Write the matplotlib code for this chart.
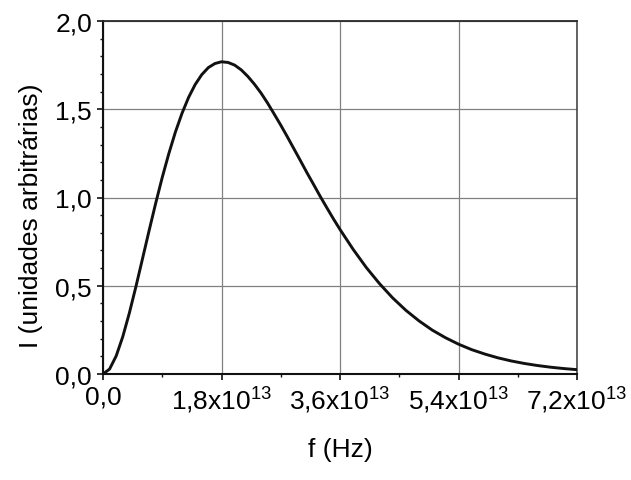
import matplotlib
matplotlib.use("Agg")
import matplotlib.pyplot as plt
from matplotlib.ticker import FixedLocator, FixedFormatter, MultipleLocator

plt.rcParams['font.family'] = ['Liberation Sans', 'DejaVu Sans']
plt.rcParams['mathtext.fontset'] = 'custom'
plt.rcParams['mathtext.rm'] = 'Liberation Sans'
plt.rcParams['mathtext.it'] = 'Liberation Sans'
plt.rcParams['mathtext.bf'] = 'Liberation Sans'

# frequency (units of 1e13 Hz)
freq = [0.0, 0.1, 0.2, 0.3, 0.4, 0.5, 0.6, 0.7, 0.8, 0.9, 1.0, 1.1, 1.2, 1.3, 1.4,
        1.5, 1.6, 1.7, 1.8, 1.9, 2.0, 2.1, 2.2, 2.3, 2.4, 2.5, 2.6, 2.7, 2.8, 2.9,
        3.0, 3.1, 3.2, 3.3, 3.4, 3.5, 3.6, 3.8, 4.0, 4.2, 4.4,
        4.6, 4.8, 5.0, 5.2, 5.4, 5.6, 5.8, 6.0, 6.2, 6.4, 6.6, 6.8, 7.0, 7.2]
# intensity (arbitrary units)
intensity = [0.0, 0.028, 0.102, 0.211, 0.345, 0.495, 0.653, 0.812, 0.967, 1.114,
             1.249, 1.371, 1.477, 1.567, 1.640, 1.696, 1.736, 1.759, 1.769, 1.765,
             1.750, 1.723, 1.686, 1.642, 1.592, 1.535, 1.473, 1.410, 1.344, 1.276,
             1.208, 1.139, 1.073, 1.006, 0.942, 0.879, 0.819, 0.706, 0.603, 0.512, 0.431,
             0.361, 0.301, 0.249, 0.206, 0.169, 0.138, 0.113, 0.0915, 0.074, 0.0597,
             0.048, 0.0385, 0.0308, 0.0246]

xtick_vals = [0.0, 1.8, 3.6, 5.4, 7.2]
xtick_labels = ['0,0', r'1,8x10$^{\mathregular{13}}$', r'3,6x10$^{\mathregular{13}}$',
                r'5,4x10$^{\mathregular{13}}$', r'7,2x10$^{\mathregular{13}}$']
ytick_vals = [0.0, 0.5, 1.0, 1.5, 2.0]
ytick_labels = ['0,0', '0,5', '1,0', '1,5', '2,0']

FS = 19
W, H = 631, 481
fig = plt.figure(figsize=(W / 100, H / 100), dpi=100)
ax = fig.add_axes([103 / W, 1 - 375 / H, (577 - 103) / W, (375 - 22) / H])

x_scaled = [v * 1e13 for v in freq]
ax.plot(x_scaled, intensity, color='#111111', lw=2.1, zorder=3,
        solid_capstyle='round', solid_joinstyle='round')

ax.set_xlim(0, 7.2e13)
ax.set_ylim(0, 2.0)

ax.xaxis.set_major_locator(FixedLocator([v * 1e13 for v in xtick_vals]))
ax.xaxis.set_major_formatter(FixedFormatter(xtick_labels))
ax.xaxis.set_minor_locator(MultipleLocator(0.9e13))
ax.yaxis.set_major_locator(FixedLocator(ytick_vals))
ax.yaxis.set_major_formatter(FixedFormatter(ytick_labels))
ax.yaxis.set_minor_locator(MultipleLocator(0.1))

ax.tick_params(which='both', direction='out', top=False, right=False, color='#111111')
ax.tick_params(which='major', length=4.5, width=1.2, labelsize=FS, pad=3.5)
ax.tick_params(which='minor', length=2.5, width=1.0)
ax.tick_params(axis='x', which='major', pad=3.0)

ax.grid(True, which='major', color='#808080', lw=0.9)
ax.set_axisbelow(True)

for side in ['left', 'bottom']:
    ax.spines[side].set_linewidth(1.5)
    ax.spines[side].set_color('#111111')
ax.spines['top'].set_linewidth(1.3)
ax.spines['top'].set_color('#2a2a2a')
ax.spines['right'].set_linewidth(1.1)
ax.spines['right'].set_color('#3a3a3a')

fig.text(340 / W, 1 - 450 / H, 'f (Hz)', ha='center', va='center', fontsize=FS)
fig.text(31 / W, 1 - 216 / H, 'I (unidades arbitrárias)', ha='center', va='center',
         rotation=90, fontsize=FS)

fig.savefig('out.png', dpi=100)
